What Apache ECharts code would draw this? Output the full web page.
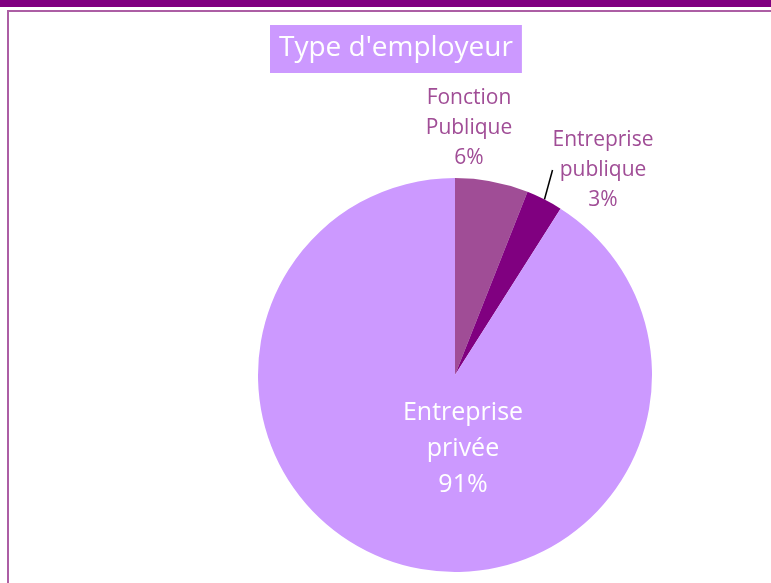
<!DOCTYPE html>
<html>
<head>
<meta charset="utf-8">
<script src="https://cdn.jsdelivr.net/npm/echarts@6/dist/echarts.min.js"></script>
<style>
  html, body { margin: 0; padding: 0; background: #fff; }
  #chart { width: 771px; height: 583px; }
</style>
</head>
<body>
<div id="chart"></div>
<script>
// données
const categories = ['Fonction\nPublique', 'Entreprise\npublique', 'Entreprise\nprivée']
const values = [6, 3, 91]
const colors = ['#a04d96', '#800080', '#cc99ff']

// position des étiquettes (centre du bloc de texte)
const labelPos = [[469, 128], [603, 170], [463, 449]]

const chart = echarts.init(document.getElementById('chart'))

chart.setOption({
  animation: false,
  title: {
    text: "Type d'employeur",
    left: 270,
    top: 25,
    padding: [7, 9, 8, 9],
    backgroundColor: '#cc99ff',
    textStyle: {
      color: '#ffffff',
      fontFamily: 'Open Sans',
      fontWeight: 'normal',
      fontSize: 28,
      lineHeight: 33,
    },
  },
  // bandeau du haut + cadre
  graphic: [
    { type: 'rect', shape: { x: 0, y: 0, width: 771, height: 7 }, style: { fill: '#800080' } },
    {
      type: 'rect',
      shape: { x: 8, y: 11, width: 800, height: 600 },
      style: { fill: 'none', stroke: '#ac5ea4', lineWidth: 2 },
      silent: true,
    },
  ],
  series: [
    {
      type: 'pie',
      center: [455, 375],
      radius: 197,
      startAngle: 90,
      clockwise: true,
      itemStyle: { borderWidth: 0 },
      emphasis: { disabled: true },
      data: categories.map((c, i) => ({
        name: c,
        value: values[i],
        itemStyle: { color: colors[i] },
        label: i === 2
          ? { position: 'inside', color: '#ffffff', fontSize: 25, lineHeight: 36 }
          : { position: 'outside', color: '#a04d96', fontSize: 21, lineHeight: 30 },
        labelLine: { show: i === 1, length: 24, length2: 0, lineStyle: { color: '#000', width: 1.5 } },
      })),
      label: {
        fontFamily: 'Open Sans',
        align: 'center',
        formatter: (p) => p.name + '\n' + p.value + '%',
      },
      labelLayout: (p) => ({
        x: labelPos[p.dataIndex][0],
        y: labelPos[p.dataIndex][1],
        align: 'center',
        verticalAlign: 'middle',
      }),
    },
  ],
})
</script>
</body>
</html>
